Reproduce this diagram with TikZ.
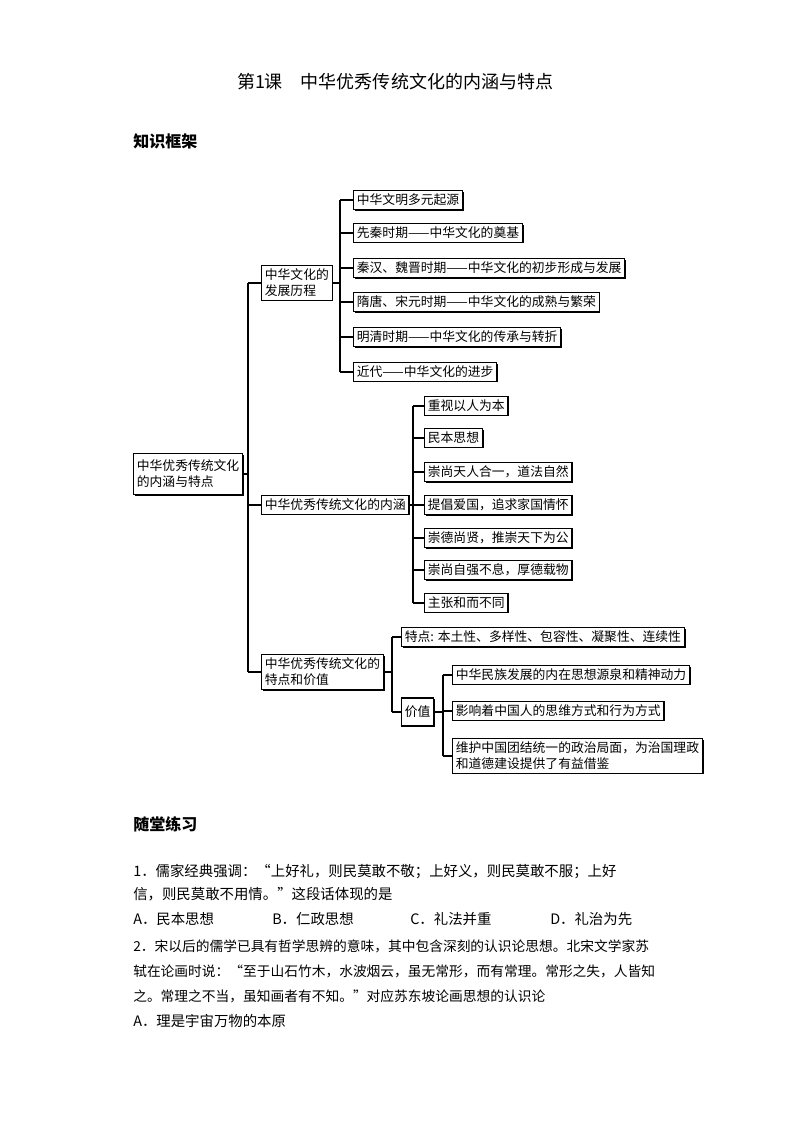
\documentclass[tikz,border=0pt]{standalone}
\usepackage{fontspec}
\setmainfont{Noto Sans CJK SC}
\usetikzlibrary{shadows}
\begin{document}
\begin{tikzpicture}[x=0.75pt,y=-0.75pt,
  bx/.style={draw,thick,fill=white,font=\fontsize{9.6}{12}\selectfont,inner sep=2.5pt,anchor=west,align=left,
    drop shadow={shadow xshift=0.9pt,shadow yshift=-0.9pt,opacity=1,fill=black}},
  ln/.style={thick},
  q/.style={anchor=west,inner sep=0pt,font=\fontsize{10.8}{13}\selectfont}]
\useasboundingbox (0,0) rectangle (794,1123);
\node[font=\fontsize{13.5}{16}\selectfont] (title) at (395,82) {第1课\quad 中华优秀传统文化的内涵与特点};
\node[q,font=\fontsize{12}{14}\selectfont\bfseries] (h1) at (133,141) {知识框架};
% root
\node[bx,minimum height=31pt] (root) at (133,474) {中华优秀传统文化\\的内涵与特点};
\node[bx] (A) at (261,283) {中华文化的\\发展历程};
\node[bx] (B) at (261,505) {中华优秀传统文化的内涵};
\node[bx] (C) at (261,672) {中华优秀传统文化的\\特点和价值};
\coordinate (r1) at (248,283);
\coordinate (r3) at (248,672);
\draw[ln] (root.east) -- (248,474);
\draw[ln] (r1) -- (r3);
\draw[ln] (r1) -- (A.west);
\draw[ln] (248,505) -- (B.west);
\draw[ln] (r3) -- (C.west);
% A children
\foreach \i/\y/\t in {1/200/中华文明多元起源,2/233/先秦时期——中华文化的奠基,3/268/秦汉、魏晋时期——中华文化的初步形成与发展,4/302/隋唐、宋元时期——中华文化的成熟与繁荣,5/337/明清时期——中华文化的传承与转折,6/372/近代——中华文化的进步}{
  \node[bx] (a\i) at (353,\y) {\t};
  \draw[ln] (340,\y) -- (a\i.west);
}
\draw[ln] (340,200) -- (340,372);
\draw[ln] (A.east) -- (340,283);
% B children
\foreach \i/\y/\t in {1/406/重视以人为本,2/438/民本思想,3/472/崇尚天人合一，道法自然,4/505/提倡爱国，追求家国情怀,5/538/崇德尚贤，推崇天下为公,6/570/崇尚自强不息，厚德载物,7/603/主张和而不同}{
  \node[bx] (b\i) at (424,\y) {\t};
  \draw[ln] (413,\y) -- (b\i.west);
}
\draw[ln] (413,406) -- (413,603);
\draw[ln] (B.east) -- (413,505);
% C children
\node[bx] (c1) at (401,637) {特点: 本土性、多样性、包容性、凝聚性、连续性};
\node[bx,minimum height=21pt] (c2) at (401,712) {价值};
\draw[ln] (392,637) -- (392,712);
\draw[ln] (C.east) -- (392,672);
\draw[ln] (392,637) -- (c1.west);
\draw[ln] (392,712) -- (c2.west);
\node[bx] (v1) at (452,675) {中华民族发展的内在思想源泉和精神动力};
\node[bx] (v2) at (452,711) {影响着中国人的思维方式和行为方式};
\node[bx] (v3) at (452,756) {维护中国团结统一的政治局面，为治国理政\\和道德建设提供了有益借鉴};
\draw[ln] (443,675) -- (443,756);
\draw[ln] (c2.east) -- (443,712);
\draw[ln] (443,675) -- (v1.west);
\draw[ln] (443,711) -- (v2.west);
\draw[ln] (443,756) -- (v3.west);
% exercises
\node[q,font=\fontsize{12}{14}\selectfont\bfseries] (h2) at (133,824) {随堂练习};
\node[q] (l1) at (133,872) {1．儒家经典强调：“上好礼，则民莫敢不敬；上好义，则民莫敢不服；上好};
\node[q] (l2) at (133,894) {信，则民莫敢不用情。”这段话体现的是};
\node[q] (oa) at (133,919) {A．民本思想};
\node[q] (ob) at (272,919) {B．仁政思想};
\node[q] (oc) at (410,919) {C．礼法并重};
\node[q] (od) at (550,919) {D．礼治为先};
\node[q,font=\fontsize{10.3}{13}\selectfont] (l3) at (133,946) {2．宋以后的儒学已具有哲学思辨的意味，其中包含深刻的认识论思想。北宋文学家苏};
\node[q,font=\fontsize{10.3}{13}\selectfont] (l4) at (133,971) {轼在论画时说：“至于山石竹木，水波烟云，虽无常形，而有常理。常形之失，人皆知};
\node[q,font=\fontsize{10.3}{13}\selectfont] (l5) at (133,996) {之。常理之不当，虽知画者有不知。”对应苏东坡论画思想的认识论};
\node[q] (l6) at (133,1021) {A．理是宇宙万物的本原};
\end{tikzpicture}
\end{document}
